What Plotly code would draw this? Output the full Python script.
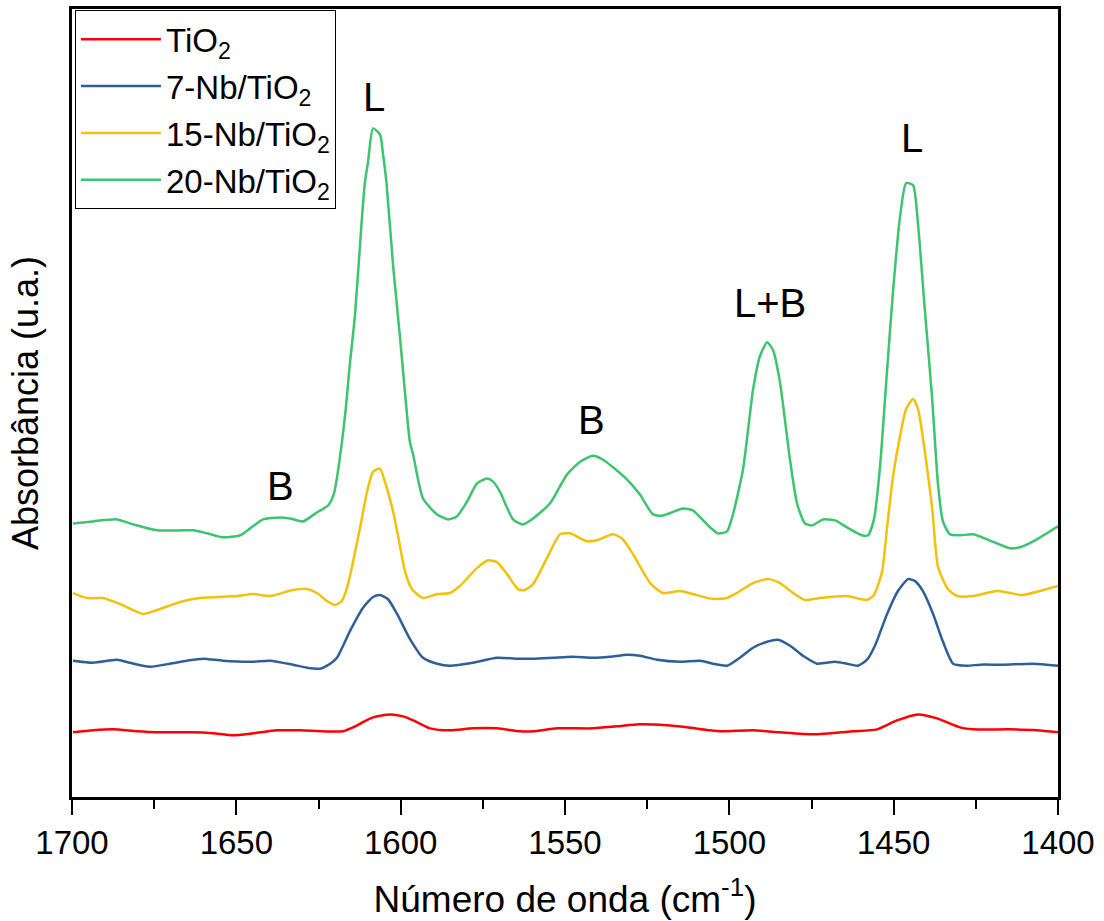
import plotly.graph_objects as go

# ---- data (wavenumber in cm-1, absorbance in arbitrary units, spectra offset) ----
tio2_x = [1699.7, 1693.6, 1687.5, 1680.2, 1674.1, 1663.2, 1657.1, 1651.0, 1644.9, 1637.6,
          1630.6, 1623.6, 1617.5, 1614.5, 1608.4, 1603.2, 1599.3, 1596.2, 1591.1, 1585.0,
          1578.0, 1570.7, 1563.7, 1559.7, 1552.4, 1541.5, 1534.2, 1527.2, 1519.0, 1512.9,
          1505.9, 1501.9, 1492.8, 1484.6, 1474.5, 1462.4, 1455.1, 1449.0, 1442.6, 1436.8,
          1429.8, 1425.9, 1414.6, 1406.4, 1400.0]
tio2_y = [0.65, 0.67, 0.68, 0.66, 0.65, 0.65, 0.64, 0.62, 0.64, 0.67,
          0.67, 0.66, 0.66, 0.70, 0.80, 0.83, 0.81, 0.77, 0.69, 0.67,
          0.69, 0.69, 0.66, 0.66, 0.69, 0.69, 0.71, 0.73, 0.72, 0.70,
          0.67, 0.66, 0.67, 0.65, 0.63, 0.66, 0.68, 0.77, 0.83, 0.79,
          0.70, 0.68, 0.68, 0.67, 0.65]

nb7_x = [1699.7, 1693.6, 1686.3, 1682.4, 1676.3, 1670.2, 1665.0, 1660.1, 1654.1, 1644.9,
         1639.8, 1632.8, 1628.5, 1624.5, 1622.4, 1619.4, 1615.4, 1611.5, 1608.4, 1606.3,
         1603.9, 1601.1, 1597.2, 1593.2, 1588.9, 1585.0, 1578.0, 1570.7, 1564.6, 1559.7,
         1553.6, 1547.6, 1541.5, 1536.3, 1531.1, 1527.2, 1522.0, 1515.0, 1508.9, 1505.0,
         1500.7, 1496.8, 1492.8, 1488.5, 1485.2, 1481.5, 1477.6, 1473.3, 1467.8, 1464.2,
         1460.9, 1458.1, 1455.7, 1452.0, 1448.7, 1445.6, 1443.5, 1441.1, 1438.0, 1435.0,
         1431.9, 1427.7, 1423.7, 1416.7, 1407.6, 1400.0]
nb7_y = [1.37, 1.35, 1.38, 1.35, 1.31, 1.34, 1.37, 1.39, 1.37, 1.36,
         1.37, 1.33, 1.30, 1.29, 1.32, 1.40, 1.67, 1.90, 2.01, 2.03,
         1.99, 1.84, 1.59, 1.40, 1.34, 1.32, 1.35, 1.40, 1.39, 1.39,
         1.40, 1.41, 1.40, 1.41, 1.43, 1.42, 1.38, 1.36, 1.37, 1.34,
         1.32, 1.40, 1.50, 1.56, 1.58, 1.52, 1.42, 1.34, 1.36, 1.34,
         1.32, 1.38, 1.52, 1.84, 2.07, 2.19, 2.17, 2.07, 1.84, 1.56,
         1.34, 1.32, 1.33, 1.33, 1.34, 1.32]

nb15_x = [1699.7, 1695.4, 1690.6, 1685.4, 1678.4, 1673.2, 1667.1, 1661.1, 1649.8, 1644.9,
          1639.8, 1632.8, 1628.5, 1625.5, 1622.4, 1620.0, 1617.9, 1616.0, 1612.4, 1610.2,
          1608.4, 1606.3, 1604.8, 1602.3, 1600.2, 1598.7, 1596.6, 1593.2, 1588.9, 1585.0,
          1582.0, 1576.8, 1573.4, 1570.7, 1567.6, 1564.3, 1562.2, 1559.7, 1555.5, 1551.5,
          1548.5, 1543.3, 1540.3, 1535.4, 1532.7, 1529.3, 1524.1, 1520.2, 1515.0, 1511.1,
          1505.0, 1500.7, 1497.7, 1492.8, 1488.2, 1484.6, 1480.6, 1477.0, 1472.4, 1464.2,
          1460.2, 1458.1, 1456.0, 1453.5, 1452.0, 1450.2, 1448.1, 1446.2, 1444.1, 1442.6,
          1440.8, 1438.3, 1436.5, 1433.5, 1430.7, 1425.9, 1418.6, 1414.6, 1410.7, 1405.5,
          1400.0]
nb15_y = [2.05, 2.00, 2.00, 1.94, 1.84, 1.89, 1.96, 2.00, 2.02, 2.04,
          2.02, 2.08, 2.09, 2.05, 1.97, 1.93, 1.97, 2.14, 2.70, 3.07,
          3.27, 3.30, 3.17, 2.87, 2.52, 2.27, 2.09, 2.00, 2.04, 2.05,
          2.12, 2.30, 2.38, 2.36, 2.24, 2.09, 2.08, 2.14, 2.40, 2.64,
          2.65, 2.57, 2.58, 2.64, 2.60, 2.44, 2.15, 2.05, 2.07, 2.04,
          1.99, 2.00, 2.05, 2.15, 2.19, 2.15, 2.05, 1.98, 2.00, 2.02,
          1.99, 1.98, 2.03, 2.27, 2.71, 3.22, 3.62, 3.90, 4.00, 3.90,
          3.54, 2.91, 2.31, 2.09, 2.02, 2.02, 2.07, 2.05, 2.03, 2.07,
          2.12]

nb20_x = [1699.7, 1693.6, 1686.3, 1681.4, 1674.1, 1663.2, 1658.9, 1654.1, 1648.9, 1645.8,
          1641.9, 1636.7, 1633.7, 1629.7, 1625.5, 1622.1, 1620.3, 1619.1, 1616.9, 1615.4,
          1613.9, 1611.9, 1610.9, 1609.9, 1608.4, 1606.3, 1605.4, 1604.3, 1602.3, 1600.2,
          1598.7, 1597.2, 1596.2, 1593.2, 1588.9, 1585.6, 1582.9, 1579.8, 1576.8, 1573.7,
          1571.9, 1569.8, 1565.8, 1562.8, 1559.7, 1554.6, 1549.4, 1545.4, 1541.5, 1538.4,
          1531.1, 1527.2, 1523.2, 1520.2, 1514.1, 1511.1, 1506.8, 1503.5, 1500.7, 1498.9,
          1495.8, 1492.8, 1490.7, 1488.5, 1486.7, 1484.6, 1481.5, 1479.4, 1477.0, 1474.8,
          1471.5, 1467.8, 1464.2, 1459.6, 1457.8, 1456.0, 1454.2, 1452.0, 1450.2, 1448.1,
          1446.2, 1444.1, 1442.6, 1440.5, 1438.3, 1436.5, 1435.0, 1432.9, 1429.8, 1425.9,
          1421.6, 1414.6, 1411.6, 1406.4, 1400.0]
nb20_y = [2.75, 2.77, 2.79, 2.74, 2.68, 2.68, 2.65, 2.61, 2.63, 2.70,
          2.79, 2.81, 2.80, 2.77, 2.86, 2.93, 3.05, 3.27, 3.84, 4.37,
          4.84, 5.77, 6.17, 6.39, 6.72, 6.66, 6.47, 6.17, 5.34, 4.62,
          4.07, 3.57, 3.44, 3.00, 2.84, 2.79, 2.82, 2.97, 3.15, 3.20,
          3.17, 3.07, 2.79, 2.74, 2.80, 2.95, 3.24, 3.37, 3.43, 3.39,
          3.19, 3.04, 2.84, 2.83, 2.90, 2.88, 2.74, 2.65, 2.67, 2.84,
          3.30, 4.09, 4.43, 4.57, 4.49, 4.17, 3.38, 2.95, 2.75, 2.73,
          2.79, 2.78, 2.71, 2.63, 2.63, 2.79, 3.30, 4.29, 5.08, 5.82,
          6.17, 6.15, 5.76, 4.89, 4.01, 3.14, 2.77, 2.64, 2.63, 2.64,
          2.59, 2.50, 2.51, 2.59, 2.72]

series_names = ["TiO<sub>2</sub>", "7-Nb/TiO<sub>2</sub>", "15-Nb/TiO<sub>2</sub>", "20-Nb/TiO<sub>2</sub>"]
series_colors = ["#FF0000", "#2F5F98", "#F2C10E", "#3CC46F"]

band_labels = ["B", "L", "B", "L+B", "L"]
band_x = [1636.7, 1608.2, 1541.8, 1487.6, 1444.4]
band_y = [3.13, 7.04, 3.79, 4.97, 6.62]

xs = [tio2_x, nb7_x, nb15_x, nb20_x]
ys = [tio2_y, nb7_y, nb15_y, nb20_y]

FONT = "Liberation Sans, Arial, sans-serif"

fig = go.Figure()
for i in range(4):
    fig.add_trace(go.Scatter(
        x=xs[i], y=ys[i], mode="lines", name=series_names[i],
        legendgroup="g%d" % i,
        line=dict(color=series_colors[i], width=2.5, shape="spline", smoothing=0.6),
    ))

for t, bx, by in zip(band_labels, band_x, band_y):
    fig.add_annotation(x=bx, y=by, text=t, showarrow=False,
                       font=dict(family=FONT, size=40, color="black"),
                       xanchor="center", yanchor="middle")

fig.update_layout(
    width=1104, height=921,
    margin=dict(l=72, r=46, t=6, b=124),
    paper_bgcolor="white", plot_bgcolor="white",
    font=dict(family=FONT, color="black"),
    showlegend=True,
    legend=dict(x=0.003, y=0.9985, xanchor="left", yanchor="top",
                bordercolor="black", borderwidth=1, bgcolor="white",
                font=dict(family=FONT, size=33, color="black"),
                tracegroupgap=1, itemwidth=80),
    xaxis=dict(range=[1700, 1400], tickvals=[1700, 1650, 1600, 1550, 1500, 1450, 1400],
               ticks="outside", ticklen=15, tickwidth=2, tickcolor="black",
               minor=dict(ticks="outside", ticklen=9, tickwidth=2, dtick=25, tickcolor="black"),
               showline=True, linewidth=2.5, linecolor="black", mirror=True,
               showgrid=False, zeroline=False,
               tickfont=dict(family=FONT, size=33, color="black"),
               title=dict(text="Número de onda (cm<sup>-1</sup>)",
                          font=dict(family=FONT, size=37, color="black"), standoff=26)),
    yaxis=dict(range=[0, 7.92], showticklabels=False, ticks="",
               showline=True, linewidth=2.5, linecolor="black", mirror=True,
               showgrid=False, zeroline=False,
               title=dict(text="Absorbância (u.a.)",
                          font=dict(family=FONT, size=36, color="black"), standoff=20)),
)

fig.write_html("out.html")
